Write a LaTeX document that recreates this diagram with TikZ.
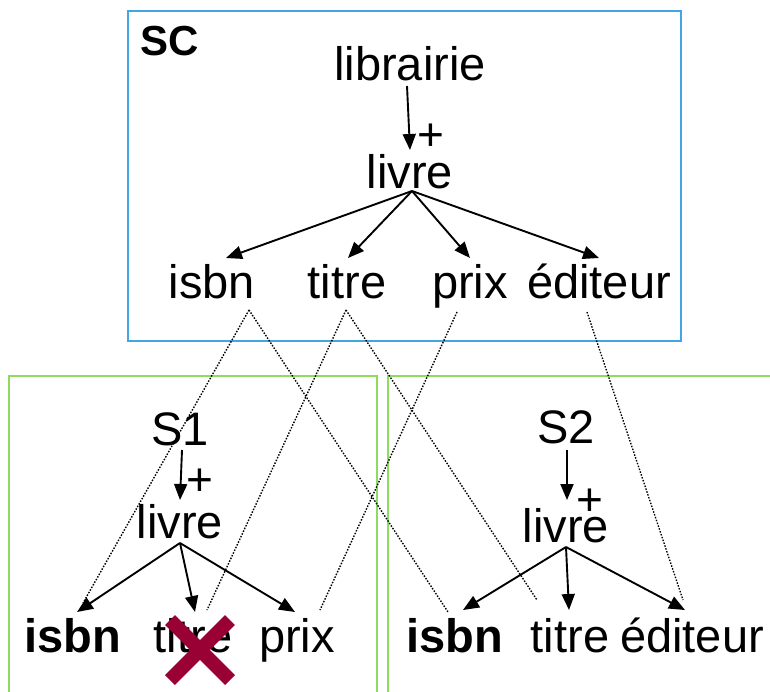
\documentclass[tikz,border=0pt]{standalone}
\usepackage{fontspec}
\setmainfont{Liberation Sans}
\usetikzlibrary{arrows.meta,calc}
\definecolor{scblue}{RGB}{64,166,228}
\definecolor{sgreen}{RGB}{140,220,96}
\definecolor{dropred}{RGB}{153,0,51}
\begin{document}
\begin{tikzpicture}[x=1pt,y=-1pt,
  lbl/.style={inner sep=0pt,anchor=base,font=\fontsize{47}{56}\selectfont},
  keylbl/.style={inner sep=0pt,anchor=base,font=\fontsize{47}{56}\selectfont\bfseries},
  plusmark/.style={inner sep=0pt,font=\fontsize{46}{52}\selectfont},
  edge/.style={line width=1.9pt,-{Triangle[length=16pt,width=13pt]}},
  map/.style={line width=1.4pt,dash pattern=on 1.5pt off 1.5pt},
  frame/.style={line width=1.5pt}]
\useasboundingbox (0,0) rectangle (770,691);
\clip (0,0) rectangle (770,691);

% frames
\draw[frame,scblue] (128,11) rectangle (681,341);
\draw[frame,sgreen] (9,376) rectangle (377,720);
\draw[frame,sgreen] (388,376) rectangle (800,720);

% global schema SC
\node[inner sep=0pt,anchor=base west,font=\fontsize{42}{50}\selectfont\bfseries] (sc) at (140,55) {SC};
\node[lbl] (lib) at (410,80) {librairie};
\node[lbl] (livre0) at (410,188) {livre};
\node[plusmark] (p0) at (431,137) {+};
\node[lbl] (isbn0) at (212,298) {isbn};
\node[lbl] (titre0) at (347,298) {titre};
\node[lbl] (prix0) at (470,298) {prix};
\node[lbl] (edit0) at (599,298) {éditeur};
\coordinate (a0) at ($(livre0.base)+(2,3)$);
\draw[edge] ($(lib.base)+(-3,6)$) -- ($(livre0.base)+(0,-38)$);
\draw[edge] (a0) -- ($(isbn0.base)+(14,-40)$);
\draw[edge] (a0) -- ($(titre0.base)+(1,-40)$);
\draw[edge] (a0) -- ($(prix0.base)+(0,-40)$);
\draw[edge] (a0) -- ($(edit0.base)+(0,-40)$);

% source S1
\node[lbl] (s1) at (180,445) {S1};
\node[lbl] (livre1) at (180,538) {livre};
\node[plusmark] (p1) at (200,482) {+};
\node[keylbl] (isbn1) at (73,652) {isbn};
\node[lbl] (titre1) at (193,652) {titre};
\node[lbl] (prix1) at (297,652) {prix};
\coordinate (a1) at ($(livre1.base)+(0,5)$);
\draw[edge] ($(s1.base)+(2,5)$) -- ($(livre1.base)+(0,-38)$);
\draw[edge] (a1) -- ($(isbn1.base)+(4,-40)$);
\draw[edge] (a1) -- ($(titre1.base)+(2,-40)$);
\draw[edge] (a1) -- ($(prix1.base)+(-2,-40)$);

% source S2
\node[lbl] (s2) at (566,443) {S2};
\node[lbl] (livre2) at (566,542) {livre};
\node[plusmark] (p2) at (590,502) {+};
\node[keylbl] (isbn2) at (455,652) {isbn};
\node[lbl] (titre2) at (570,652) {titre};
\node[lbl] (edit2) at (692,652) {éditeur};
\coordinate (a2) at ($(livre2.base)+(0,5)$);
\draw[edge] ($(s2.base)+(1,7)$) -- ($(livre2.base)+(1,-42)$);
\draw[edge] (a2) -- ($(isbn2.base)+(8,-42)$);
\draw[edge] (a2) -- ($(titre2.base)+(-1,-42)$);
\draw[edge] (a2) -- ($(edit2.base)+(-7,-42)$);

% mappings from SC to the sources
\draw[map] ($(isbn0.base)+(37,12)$) -- ($(isbn1.base)+(10,-49)$);
\draw[map] ($(isbn0.base)+(37,12)$) -- ($(isbn2.base)+(-7,-40)$);
\draw[map] ($(titre0.base)+(-1,12)$) -- ($(titre1.base)+(14,-42)$);
\draw[map] ($(titre0.base)+(-1,12)$) -- ($(titre2.base)+(-33,-52)$);
\draw[map] ($(prix0.base)+(-13,14)$) -- ($(prix1.base)+(23,-42)$);
\draw[map] ($(edit0.base)+(-12,14)$) -- ($(edit2.base)+(-9,-52)$);

% removed attribute
\coordinate (x1) at (200,650);
\draw[dropred,line width=14pt] ($(x1)+(-30,-30)$) -- ($(x1)+(30,30)$);
\draw[dropred,line width=14pt] ($(x1)+(-30,30)$) -- ($(x1)+(30,-30)$);
\end{tikzpicture}
\end{document}
